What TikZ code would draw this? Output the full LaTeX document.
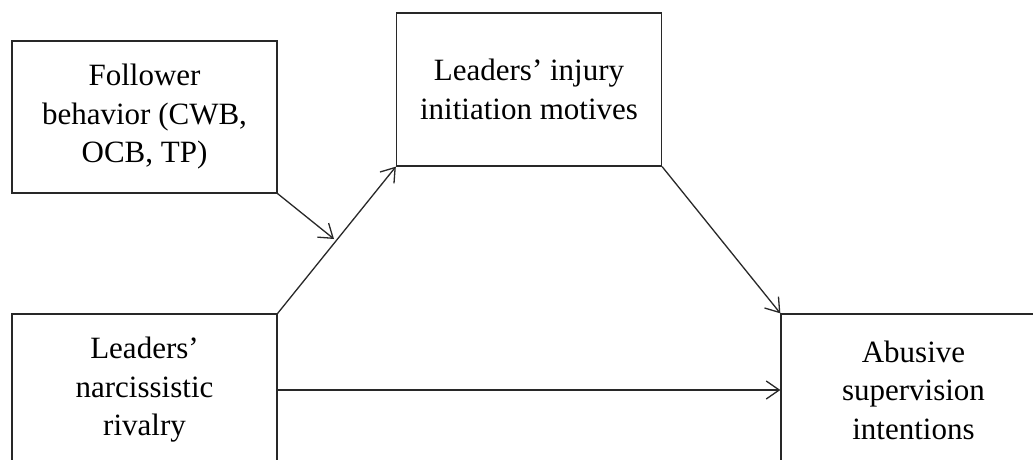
\documentclass[tikz,border=0pt]{standalone}
\usepackage{fontspec}
\setmainfont{Liberation Serif}
\usetikzlibrary{arrows.meta}
\definecolor{ink}{RGB}{40,40,40}
\tikzset{
  box/.style={draw=ink, line width=1.3pt, minimum width=265pt, minimum height=152pt,
    inner sep=0pt, align=center, font=\fontsize{31}{38.5}\selectfont, text=black,
    execute at begin node={\rule{0pt}{28pt}}},
  link/.style={draw=ink, line width=1.3pt, -{Straight Barb[length=13pt,width=18pt,line width=1.3pt]}}
}
\begin{document}
\begin{tikzpicture}[x=1pt,y=-1pt]
\useasboundingbox (0,0) rectangle (1033,460);
\clip (0,0) rectangle (1033,460);
\fill[white] (0,0) rectangle (1033,460);
\node[box] (follower) at (144.5,117) {Follower\\behavior (CWB,\\OCB, TP)};
\node[box, minimum height=153pt] (injury) at (529,89.5) {Leaders’ injury\\initiation motives};
\node[box] (rivalry) at (144.5,390) {Leaders’\\narcissistic\\rivalry};
\node[box] (abusive) at (913.5,390) {Abusive\\supervision\\intentions};
\coordinate (mod) at (334,239);
\draw[link] (rivalry.north east) -- (injury.south west);
\draw[link] (follower.south east) -- (mod);
\draw[link] (injury.south east) -- (abusive.north west);
\draw[link] (rivalry.east) -- (abusive.west);
\end{tikzpicture}
\end{document}
